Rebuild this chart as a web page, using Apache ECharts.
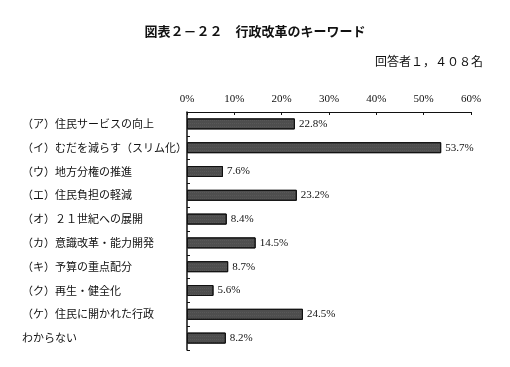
<!DOCTYPE html>
<html><head><meta charset="utf-8">
<script src="https://cdn.jsdelivr.net/npm/echarts@6/dist/echarts.min.js"></script>
<style>html,body{margin:0;padding:0;background:#fff}#c{width:510px;height:367px}</style>
</head><body><div id="c"></div>
<script>
const categories = ['（ア）住民サービスの向上','（イ）むだを減らす（スリム化）','（ウ）地方分権の推進','（エ）住民負担の軽減','（オ）２１世紀への展開','（カ）意識改革・能力開発','（キ）予算の重点配分','（ク）再生・健全化','（ケ）住民に開かれた行政','わからない'];
const values = [22.8, 53.7, 7.6, 23.2, 8.4, 14.5, 8.7, 5.6, 24.5, 8.2];
const xTicks = [0, 10, 20, 30, 40, 50, 60];
const titleText = '図表２－２２　行政改革のキーワード';
const subText = '回答者１，４０８名';

const chart = echarts.init(document.getElementById('c'), null, {renderer:'canvas'});
chart.setOption({
  backgroundColor:'#fff',
  animation:false,
  title:[
    {text:titleText, left:'center', top:20, textStyle:{fontFamily:'Noto Sans CJK JP', fontSize:13, fontWeight:'bold', color:'#111'}},
    {text:subText, right:22, top:50, textStyle:{fontFamily:'Noto Sans CJK JP', fontSize:12, fontWeight:'normal', color:'#111'}}
  ],
  grid:{left:187, right:39, top:112, bottom:17},
  xAxis:{
    type:'value', position:'top', min:xTicks[0], max:xTicks[xTicks.length-1], interval:10,
    axisLine:{show:true, lineStyle:{color:'#111', width:1}},
    axisTick:{show:true, inside:true, length:3, lineStyle:{color:'#111'}},
    splitLine:{show:false},
    axisLabel:{formatter:v=>v+'%', fontFamily:'Liberation Serif', fontSize:11, color:'#111', margin:7}
  },
  yAxis:{
    type:'category', inverse:true, data:categories,
    axisLine:{show:true, lineStyle:{color:'#111', width:1.5}},
    axisTick:{show:true, inside:true, length:3, lineStyle:{color:'#111'}},
    axisLabel:{align:'left', margin:165, fontFamily:'Noto Sans CJK JP', fontSize:11, color:'#111'}
  },
  series:[{
    type:'bar', data:values, barWidth:11,
    itemStyle:{color:'#4e4e4e', borderColor:'#111', borderWidth:1,
      decal:{symbol:'rect', symbolSize:0.5, dashArrayX:[1,1], dashArrayY:[1,2], color:'rgba(200,200,200,0.35)', rotation:0}},
    label:{show:true, position:'right', distance:4, formatter:p=>p.value.toFixed(1)+'%', fontFamily:'Liberation Serif', fontSize:11, color:'#111'}
  }]
});
</script></body></html>
